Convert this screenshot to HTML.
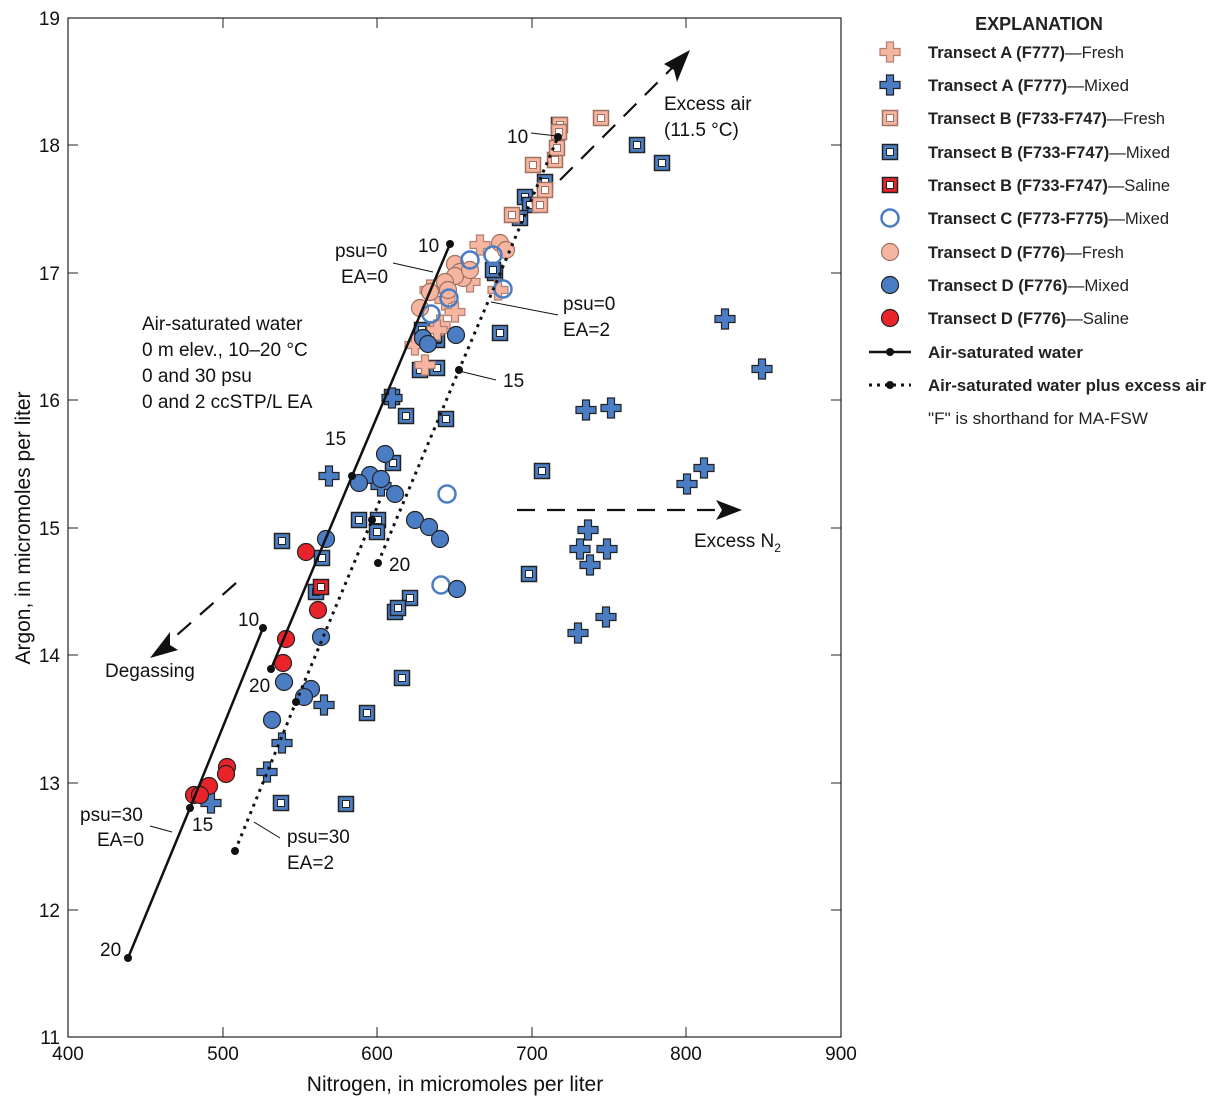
<!DOCTYPE html>
<html><head><meta charset="utf-8"><style>
body{margin:0;background:#fff;}
svg{display:block;font-family:"Liberation Sans",sans-serif;}
.t{font-size:19px;fill:#111;}
.lg{font-size:16.5px;fill:#222;}
</style></head><body>
<svg id="s" width="1207" height="1103" viewBox="0 0 1207 1103">
<rect x="68" y="18" width="773" height="1019" fill="none" stroke="#222" stroke-width="1.2"/>
<g stroke="#222" stroke-width="1">
<line x1="68" y1="145" x2="78" y2="145"/><line x1="68" y1="273" x2="78" y2="273"/><line x1="68" y1="400" x2="78" y2="400"/><line x1="68" y1="528" x2="78" y2="528"/><line x1="68" y1="655" x2="78" y2="655"/><line x1="68" y1="783" x2="78" y2="783"/><line x1="68" y1="910" x2="78" y2="910"/>
<line x1="831" y1="145" x2="841" y2="145"/><line x1="831" y1="273" x2="841" y2="273"/><line x1="831" y1="400" x2="841" y2="400"/><line x1="831" y1="528" x2="841" y2="528"/><line x1="831" y1="655" x2="841" y2="655"/><line x1="831" y1="783" x2="841" y2="783"/><line x1="831" y1="910" x2="841" y2="910"/>
<line x1="223" y1="1037" x2="223" y2="1027"/><line x1="377" y1="1037" x2="377" y2="1027"/><line x1="532" y1="1037" x2="532" y2="1027"/><line x1="686" y1="1037" x2="686" y2="1027"/>
<line x1="223" y1="18" x2="223" y2="28"/><line x1="377" y1="18" x2="377" y2="28"/><line x1="532" y1="18" x2="532" y2="28"/><line x1="686" y1="18" x2="686" y2="28"/>
</g>
<g class="t" text-anchor="end">
<text x="60" y="25">19</text><text x="60" y="152">18</text><text x="60" y="280">17</text><text x="60" y="407">16</text><text x="60" y="535">15</text><text x="60" y="662">14</text><text x="60" y="790">13</text><text x="60" y="917">12</text><text x="60" y="1044">11</text>
</g>
<g class="t" text-anchor="middle">
<text x="68" y="1060">400</text><text x="223" y="1060">500</text><text x="377" y="1060">600</text><text x="532" y="1060">700</text><text x="686" y="1060">800</text><text x="841" y="1060">900</text>
</g>
<text class="t" x="455" y="1091" text-anchor="middle" style="font-size:21px">Nitrogen, in micromoles per liter</text>
<text class="t" transform="translate(30,528) rotate(-90)" text-anchor="middle" style="font-size:21px">Argon, in micromoles per liter</text>
<g id="m"></g>
<g stroke="#111" fill="none">
<polyline points="128,958 190,808 263,628" stroke-width="2.5"/>
<polyline points="271,669 352,476 450,244" stroke-width="2.5"/>
<polyline points="235,851 296,702 372,520 380,500" stroke-width="3" stroke-dasharray="3,5"/>
<polyline points="378,563 459,370 558,137" stroke-width="3" stroke-dasharray="3,5"/>
<line x1="560" y1="180" x2="672" y2="68" stroke-width="2.2" stroke-dasharray="18,12"/>
<line x1="236" y1="583" x2="160" y2="650" stroke-width="2.2" stroke-dasharray="18,12"/>
<line x1="517" y1="510" x2="730" y2="510" stroke-width="2.2" stroke-dasharray="18,12"/>
<line x1="393" y1="263" x2="433" y2="272" stroke-width="1"/>
<line x1="491" y1="302" x2="558" y2="315" stroke-width="1"/>
<line x1="455" y1="370" x2="496" y2="380" stroke-width="1"/>
<line x1="531" y1="133" x2="557" y2="136" stroke-width="1"/>
<line x1="150" y1="826" x2="172" y2="832" stroke-width="1"/>
<line x1="254" y1="822" x2="280" y2="838" stroke-width="1"/>
</g>
<g fill="#111">
<circle cx="128" cy="958" r="4"/><circle cx="190" cy="808" r="4"/><circle cx="263" cy="628" r="4"/>
<circle cx="271" cy="669" r="4"/><circle cx="352" cy="476" r="4"/><circle cx="450" cy="244" r="4"/>
<circle cx="235" cy="851" r="4"/><circle cx="296" cy="702" r="4"/><circle cx="372" cy="520" r="4"/>
<circle cx="378" cy="563" r="4"/><circle cx="459" cy="370" r="4"/><circle cx="558" cy="137" r="4"/>
<path d="M690,50 L664,64 L674,70 L677,82 Z"/>
<path d="M150,658 L178,650 L170,645 L170,632 Z"/>
<path d="M742,510 L716,500 L722,510 L716,520 Z"/>
</g>
<g class="t">
<text x="664" y="110">Excess air</text><text x="664" y="136">(11.5 °C)</text>
<text x="105" y="677">Degassing</text>
<text x="694" y="547">Excess N<tspan font-size="12" dy="5">2</tspan></text>
<text x="142" y="330">Air-saturated water</text>
<text x="142" y="356">0 m elev., 10–20 °C</text>
<text x="142" y="382">0 and 30 psu</text>
<text x="142" y="408">0 and 2 ccSTP/L EA</text>
<text x="335" y="257">psu=0</text><text x="341" y="283">EA=0</text>
<text x="563" y="310">psu=0</text><text x="563" y="336">EA=2</text>
<text x="80" y="821">psu=30</text><text x="97" y="846">EA=0</text>
<text x="287" y="843">psu=30</text><text x="287" y="869">EA=2</text>
<text x="418" y="252">10</text><text x="507" y="143">10</text><text x="503" y="387">15</text>
<text x="325" y="445">15</text><text x="389" y="571">20</text><text x="238" y="626">10</text>
<text x="249" y="692">20</text><text x="192" y="831">15</text><text x="100" y="956">20</text>
</g>
<text x="1039" y="30" text-anchor="middle" style="font-size:18px;font-weight:bold;fill:#222">EXPLANATION</text>
<g id="lgm"></g>
<g class="lg" font-weight="bold">
<text x="928" y="58" textLength="196" lengthAdjust="spacingAndGlyphs">Transect A (F777)<tspan font-weight="normal">—Fresh</tspan></text>
<text x="928" y="91" textLength="201" lengthAdjust="spacingAndGlyphs">Transect A (F777)<tspan font-weight="normal">—Mixed</tspan></text>
<text x="928" y="124" textLength="237" lengthAdjust="spacingAndGlyphs">Transect B (F733-F747)<tspan font-weight="normal">—Fresh</tspan></text>
<text x="928" y="158" textLength="242" lengthAdjust="spacingAndGlyphs">Transect B (F733-F747)<tspan font-weight="normal">—Mixed</tspan></text>
<text x="928" y="191" textLength="242" lengthAdjust="spacingAndGlyphs">Transect B (F733-F747)<tspan font-weight="normal">—Saline</tspan></text>
<text x="928" y="224" textLength="241" lengthAdjust="spacingAndGlyphs">Transect C (F773-F775)<tspan font-weight="normal">—Mixed</tspan></text>
<text x="928" y="258" textLength="196" lengthAdjust="spacingAndGlyphs">Transect D (F776)<tspan font-weight="normal">—Fresh</tspan></text>
<text x="928" y="291" textLength="201" lengthAdjust="spacingAndGlyphs">Transect D (F776)<tspan font-weight="normal">—Mixed</tspan></text>
<text x="928" y="324" textLength="201" lengthAdjust="spacingAndGlyphs">Transect D (F776)<tspan font-weight="normal">—Saline</tspan></text>
<text x="928" y="358" textLength="155" lengthAdjust="spacingAndGlyphs">Air-saturated water</text>
<text x="928" y="391" textLength="278" lengthAdjust="spacingAndGlyphs">Air-saturated water plus excess air</text>
<text x="928" y="424" font-weight="normal" textLength="220" lengthAdjust="spacingAndGlyphs">"F" is shorthand for MA-FSW</text>
</g>
<g stroke="#111"><line x1="869" y1="352" x2="911" y2="352" stroke-width="2.5"/><line x1="869" y1="385" x2="911" y2="385" stroke-width="3" stroke-dasharray="3,5"/></g>
<circle cx="890" cy="352" r="4" fill="#111"/><circle cx="890" cy="385" r="4" fill="#111"/>
</svg>
<script>
const NS="http://www.w3.org/2000/svg";
const PK="#f5b5a0",PKS="#b08070",BL="#4a7dc4",RD="#e8232a";
function el(g,t,a){const e=document.createElementNS(NS,t);for(const k in a)e.setAttribute(k,a[k]);g.appendChild(e);}
function plus(g,x,y,f,s){el(g,"path",{d:`M${x-3.5},${y-10}h7v6.5h6.5v7h-6.5v6.5h-7v-6.5h-6.5v-7h6.5z`,fill:f,stroke:s,"stroke-width":1.2});}
function sq(g,x,y,f,s){el(g,"rect",{x:x-7.5,y:y-7.5,width:15,height:15,fill:f,stroke:s,"stroke-width":1.5});el(g,"rect",{x:x-3.5,y:y-3.5,width:7,height:7,fill:"#fff",stroke:s,"stroke-width":1});}
function ci(g,x,y,f,s){el(g,"circle",{cx:x,cy:y,r:8.5,fill:f,stroke:s,"stroke-width":1.2});}
function oc(g,x,y){el(g,"circle",{cx:x,cy:y,r:8.5,fill:"none",stroke:BL,"stroke-width":2.5});}
const g=document.getElementById("m");
[[637,145],[662,163],[559,125],[525,197],[545,182],[530,205],[520,218],[495,273],[500,333],[422,330],[420,370],[437,368],[392,397],[406,416],[446,419],[393,463],[282,541],[322,558],[359,520],[378,520],[377,532],[395,612],[410,598],[398,608],[316,592],[367,713],[281,803],[346,804],[402,678],[542,471],[529,574],[493,270],[437,340],[434,335]].forEach(p=>sq(g,p[0],p[1],BL,"#222"));
[[601,118],[533,165],[555,160],[545,190],[512,215],[560,125],[559,132],[557,148],[540,205]].forEach(p=>sq(g,p[0],p[1],PK,"#a07060"));
sq(g,321,587,RD,"#222");
[[430,290],[425,365],[440,325],[480,245],[498,290],[445,300],[415,345],[455,312],[437,330],[470,282]].forEach(p=>plus(g,p[0],p[1],PK,PKS));
[[420,308],[455,264],[460,272],[463,278],[430,292],[500,243],[506,250],[455,276],[445,282],[470,270],[448,290]].forEach(p=>ci(g,p[0],p[1],PK,"#a07060"));
[[431,314],[449,298],[470,260],[493,255],[503,289],[447,494],[441,585]].forEach(p=>oc(g,p[0],p[1]));
[[725,319],[762,369],[392,398],[586,410],[611,408],[704,468],[687,484],[329,476],[381,486],[588,530],[580,549],[607,549],[590,565],[578,633],[606,617],[324,705],[282,743],[267,772],[211,803]].forEach(p=>plus(g,p[0],p[1],BL,"#222"));
[[423,338],[428,344],[456,335],[385,454],[370,475],[359,483],[381,479],[395,494],[326,539],[415,520],[429,527],[440,539],[457,589],[321,637],[284,682],[311,689],[304,697],[272,720]].forEach(p=>ci(g,p[0],p[1],BL,"#222"));
[[306,552],[318,610],[286,639],[283,663],[227,767],[226,774],[209,786],[194,795],[200,795]].forEach(p=>ci(g,p[0],p[1],RD,"#222"));
const L=document.getElementById("lgm");
plus(L,890,52,PK,PKS);plus(L,890,85,BL,"#222");sq(L,890,118,PK,"#a07060");sq(L,890,152,BL,"#222");sq(L,890,185,RD,"#222");oc(L,890,218);ci(L,890,252,PK,"#a07060");ci(L,890,285,BL,"#222");ci(L,890,318,RD,"#222");
</script>
</body></html>
